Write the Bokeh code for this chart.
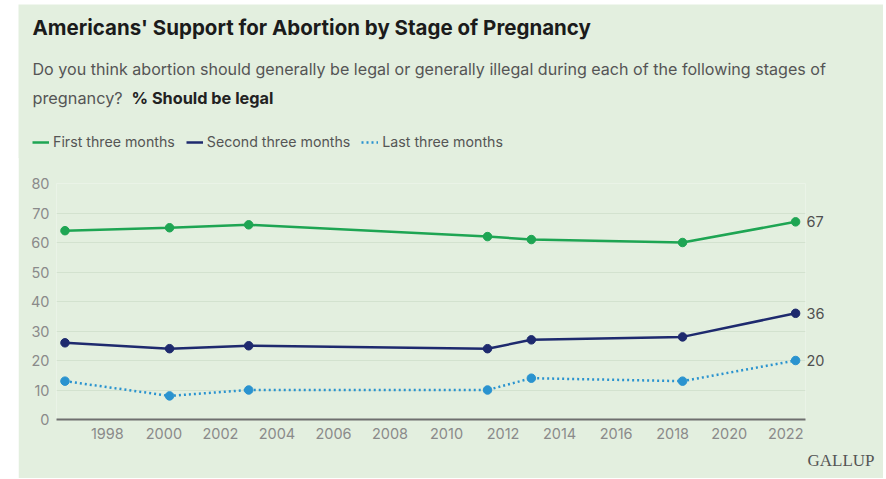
from bokeh.plotting import figure
from bokeh.models import (Range1d, Label, Legend, LegendItem, FixedTicker, LinearAxis, Title)
from bokeh.embed import file_html
from bokeh.resources import INLINE

# ---- data ----
years = [1996.5, 2000.2, 2003.0, 2011.45, 2013.0, 2018.35, 2022.35]
first_three = [64, 65, 66, 62, 61, 60, 67]
second_three = [26, 24, 25, 24, 27, 28, 36]
last_three = [13, 8, 10, 10, 14, 13, 20]
series_names = ["First three months", "Second three months", "Last three months"]
x_ticks = list(range(1998, 2023, 2))
y_ticks = list(range(0, 81, 10))

title_text = "Americans' Support for Abortion by Stage of Pregnancy"
sub1 = "Do you think abortion should generally be legal or generally illegal during each of the following stages of"
sub2a = "pregnancy?"
sub2b = "% Should be legal"
source_text = "GALLUP"

BG = "#e3efdf"
GREEN = "#1ea553"
NAVY = "#1e2a6e"
BLUE = "#2a93cf"
FONT = "Inter"
W = 865
HEAD_H = 154
MAIN_H = 321

# ---------- header (title, subtitle, legend) ----------
h = figure(width=W, height=HEAD_H, output_backend="svg", toolbar_location=None,
           x_range=Range1d(0, W), y_range=Range1d(0, HEAD_H),
           x_axis_location=None, y_axis_location=None,
           min_border=0, margin=(4, 0, 0, 18))
h.background_fill_color = BG
h.border_fill_color = BG
h.outline_line_color = None
h.grid.visible = False

h.add_layout(Label(x=14, y=131, x_units="screen", y_units="screen", text=title_text,
                   text_font=FONT, text_font_size="20.5px", text_font_style="bold",
                   text_color="#1b1b1b", text_baseline="middle"))
h.add_layout(Label(x=14, y=90, x_units="screen", y_units="screen", text=sub1,
                   text_font=FONT, text_font_size="16.1px", text_color="#555555",
                   text_baseline="middle"))
h.add_layout(Label(x=14, y=61, x_units="screen", y_units="screen", text=sub2a,
                   text_font=FONT, text_font_size="16.3px", text_color="#555555",
                   text_baseline="middle"))
h.add_layout(Label(x=113, y=61, x_units="screen", y_units="screen", text=sub2b,
                   text_font=FONT, text_font_size="16.3px", text_font_style="bold",
                   text_color="#222222", text_baseline="middle"))

l1 = h.line(years, first_three, line_color=GREEN, line_width=2.5, visible=False)
l2 = h.line(years, second_three, line_color=NAVY, line_width=2.5, visible=False)
l3 = h.line(years, last_three, line_color=BLUE, line_width=2.5, line_dash="2 3", visible=False)
legend = Legend(items=[LegendItem(label=series_names[0], renderers=[l1]),
                       LegendItem(label=series_names[1], renderers=[l2]),
                       LegendItem(label=series_names[2], renderers=[l3])],
                orientation="horizontal", location=(14, 8),
                glyph_width=17, glyph_height=16, label_standoff=4, spacing=11,
                padding=0, margin=0, border_line_color=None,
                background_fill_alpha=0, label_text_font=FONT,
                label_text_font_size="14.2px", label_text_color="#555555",
                label_height=16, click_policy="none")
h.add_layout(legend, "center")

# ---------- main chart ----------
p = figure(width=W, height=MAIN_H, output_backend="svg", toolbar_location=None,
           x_range=Range1d(1996.2, 2022.7), y_range=Range1d(0, 80),
           min_border_left=38, min_border_right=78, min_border_top=26,
           min_border_bottom=59, margin=(-1, 0, 0, 18))
p.background_fill_color = BG
p.border_fill_color = BG
p.outline_line_color = None

xa = p.below[0]
ya = p.left[0]
xa.ticker = FixedTicker(ticks=x_ticks)
ya.ticker = FixedTicker(ticks=y_ticks)
for ax in (xa, ya):
    ax.major_tick_line_color = None
    ax.minor_tick_line_color = None
    ax.major_tick_out = 0
    ax.major_tick_in = 0
    ax.minor_tick_out = 0
    ax.major_label_text_font = FONT
    ax.major_label_text_font_size = "14.5px"
    ax.major_label_text_color = "#8a8a8a"
ya.axis_line_color = None
ya.major_label_standoff = 7
xa.axis_line_color = "#6f6f6f"
xa.axis_line_width = 2
xa.major_label_standoff = 8
p.xgrid.grid_line_color = None
p.ygrid.grid_line_color = "#d3e2cf"
p.ygrid.grid_line_width = 1

p.line(years, first_three, line_color=GREEN, line_width=2.5)
p.scatter(years, first_three, size=8.5, color=GREEN)
p.line(years, second_three, line_color=NAVY, line_width=2.5)
p.scatter(years, second_three, size=8.5, color=NAVY)
p.line(years, last_three, line_color=BLUE, line_width=2.5, line_dash="2 3")
p.scatter(years, last_three, size=8.5, color=BLUE)

# end-value labels as a right axis at the last values
end_vals = [first_three[-1], second_three[-1], last_three[-1]]
ra = LinearAxis(ticker=FixedTicker(ticks=end_vals), axis_line_color=None,
                major_tick_line_color=None, minor_tick_line_color=None,
                major_tick_out=0, major_tick_in=0, minor_tick_out=0,
                major_label_standoff=1, major_label_text_font=FONT,
                major_label_text_font_size="14.5px", major_label_text_color="#505050")
p.add_layout(ra, "right")

p.add_layout(Title(text=source_text, align="right", offset=-69,
                   text_font="Liberation Serif", text_font_size="17px",
                   text_font_style="normal", text_color="#555555", standoff=14), "below")

open("out.html", "w").write(file_html([h, p], INLINE))
